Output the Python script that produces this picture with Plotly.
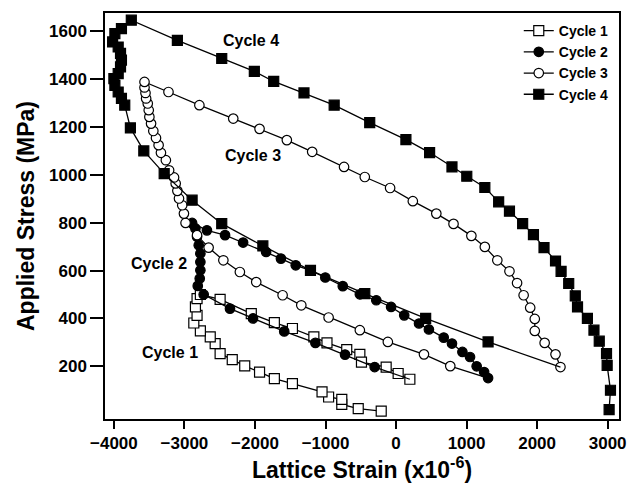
import plotly.graph_objects as go

# ---------------- data ----------------
cycle1_strain = [-210, -536, -769, -769, -956, -1049, -1469, -1725, -1935, -2145, -2322, -2494,
                 -2564, -2634, -2774, -2867, -2821, -2844, -2821, -2774,
                 -2494, -2052, -1725, -1469, -1165, -979, -699, -513, -490, -140, 30, 196]
cycle1_stress = [13, 23, 41, 62, 72, 93, 128, 149, 176, 202, 228, 253,
                 295, 323, 348, 381, 413, 448, 483, 500,
                 480, 420, 383, 358, 323, 298, 270, 250, 218, 197, 170, 146]

cycle2_strain = [-303, -723, -1143, -1585, -2028, -2354, -2727, -2811, -2783, -2774, -2774, -2774,
                 -2797, -2821, -2844, -2891,
                 -2681, -2424, -2168, -1842, -1632, -1422, -1213, -1003, -755, -513, -280, -70,
                 116, 326, 466, 676, 793, 941, 1049, 1143, 1249, 1305]
cycle2_stress = [197, 249, 298, 346, 400, 441, 500, 536, 567, 601, 636, 671,
                 706, 741, 776, 799,
                 768, 748, 717, 678, 650, 622, 601, 571, 535, 501, 476, 448,
                 413, 379, 354, 320, 295, 260, 239, 200, 176, 151]

cycle3_strain = [769, 396, -116, -513, -956, -1343, -1608, -1982, -2214, -2448, -2657, -2821,
                 -2984, -3007, -3031, -3077, -3100, -3124, -3147, -3217, -3263, -3333, -3366,
                 -3403, -3441, -3473, -3497, -3506, -3520, -3543, -3552, -3566, -3566,
                 -3226, -2788, -2308, -1935, -1548, -1189, -737, -443, -84, 238, 571, 815,
                 1068, 1259, 1436, 1608, 1716, 1809, 1902, 1967, 1967, 2107, 2261, 2331]
cycle3_stress = [201, 250, 302, 351, 404, 455, 497, 552, 594, 643, 696, 748,
                 799, 838, 873, 901, 933, 964, 989, 1019, 1061, 1092, 1124,
                 1154, 1183, 1214, 1242, 1270, 1298, 1319, 1342, 1365, 1388,
                 1346, 1291, 1235, 1192, 1145, 1096, 1033, 991, 945, 890, 838, 795,
                 745, 699, 643, 597, 548, 497, 445, 398, 348, 298, 250, 197]

cycle4_strain = [1305, 420, -443, -1213, -1888, -2471, -2891, -3287, -3576, -3766,
                 -3846, -3893, -3939, -3986, -4000, -3939, -3906, -3893, -3906, -3939,
                 -4018, -3986, -3893, -3753,
                 -3100, -2471, -2009, -1734, -1305, -877, -373, 140, 476, 793, 1003, 1259,
                 1455, 1608, 1795, 1948, 2098, 2261, 2340, 2448, 2541, 2573, 2713, 2806,
                 2881, 2984, 2993, 3040, 3021]
cycle4_stress = [302, 400, 504, 601, 703, 796, 894, 1005, 1100, 1196,
                 1291, 1319, 1346, 1374, 1402, 1423, 1451, 1479, 1507, 1534,
                 1555, 1590, 1611, 1646,
                 1562, 1486, 1432, 1390, 1342, 1291, 1218, 1147, 1093, 1033, 994, 947,
                 887, 848, 796, 750, 696, 640, 597, 546, 494, 448, 400, 351,
                 305, 253, 204, 100, 19]

cycle_names = ["Cycle 1", "Cycle 2", "Cycle 3", "Cycle 4"]
x_ticks = [-4000, -3000, -2000, -1000, 0, 1000, 2000, 3000]
y_ticks = [200, 400, 600, 800, 1000, 1200, 1400, 1600]

label_text = ["Cycle 4", "Cycle 3", "Cycle 2", "Cycle 1"]
label_x = [-2056, -2028, -3357, -3203]
label_y = [1562, 1082, 630, 259]

# ---------------- figure ----------------
FONT = "Liberation Sans, Arial, Helvetica, sans-serif"
series = [(cycle1_strain, cycle1_stress), (cycle2_strain, cycle2_stress),
          (cycle3_strain, cycle3_stress), (cycle4_strain, cycle4_stress)]
symbols = ["square", "circle", "circle", "square"]
fills = ["white", "black", "white", "black"]
sizes = [10, 9.5, 9.5, 10]

fig = go.Figure()
for i, (xs, ys) in enumerate(series):
    if i > 0:
        px, py = series[i - 1]
        fig.add_trace(go.Scatter(x=[px[-1], xs[0]], y=[py[-1], ys[0]], mode="lines",
                                 line=dict(color="black", width=1.3),
                                 showlegend=False, hoverinfo="skip"))
    fig.add_trace(go.Scatter(
        x=xs, y=ys, mode="lines+markers", name=cycle_names[i],
        line=dict(color="black", width=1.3),
        marker=dict(symbol=symbols[i], size=sizes[i], color=fills[i],
                    line=dict(color="black", width=1.2)),
    ))

for t, x, y in zip(label_text, label_x, label_y):
    fig.add_annotation(x=x, y=y, text=t, showarrow=False,
                       font=dict(family=FONT, size=16, color="black", weight="bold"))

axis_common = dict(showline=True, linecolor="black", linewidth=1.5, mirror=True,
                   ticks="outside", tickcolor="black", tickwidth=1.5,
                   showgrid=False, zeroline=False,
                   tickfont=dict(family=FONT, size=17, color="black", weight="bold"))

fig.update_layout(
    width=632, height=483,
    margin=dict(l=105, r=6, t=13, b=64),
    paper_bgcolor="white", plot_bgcolor="white",
    showlegend=True,
    legend=dict(x=0.805, y=0.995, xanchor="left", yanchor="top",
                bgcolor="rgba(0,0,0,0)", borderwidth=0,
                font=dict(family=FONT, size=14, color="black", weight="bold"),
                tracegroupgap=0),
    xaxis=dict(range=[-4126, 3161], tickvals=x_ticks, ticklen=8,
               title=dict(text="Lattice Strain (x10<sup>-6</sup>)", standoff=6,
                          font=dict(family=FONT, size=23, color="black", weight="bold")),
               **axis_common),
    yaxis=dict(range=[-20, 1676], tickvals=y_ticks, ticklen=13,
               title=dict(text="Applied Stress (MPa)", standoff=8,
                          font=dict(family=FONT, size=23, color="black", weight="bold")),
               **axis_common),
)

fig.write_html("out.html")
